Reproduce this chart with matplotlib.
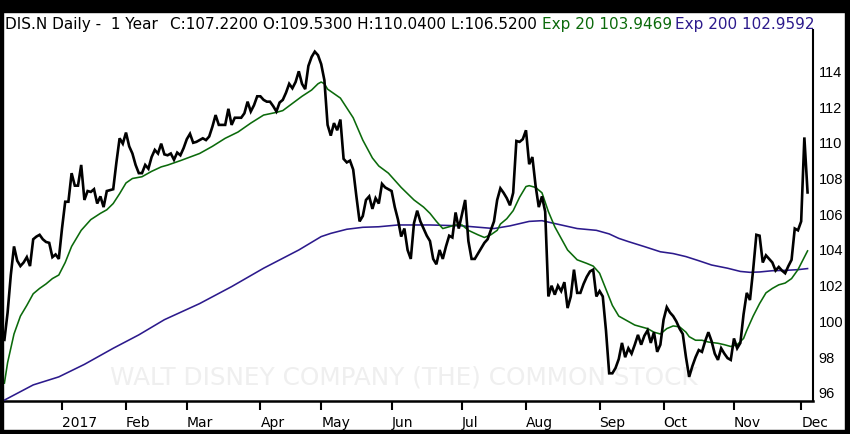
import numpy as np
import matplotlib
matplotlib.use("Agg")
import matplotlib.pyplot as plt
from matplotlib.patches import Rectangle

# ---------------- data (trading-day index, 0 = 3 Jan 2017) ----------------
start_idx = -18
close = [
    98.97, 100.5, 102.6, 104.2, 103.4, 103.1, 103.3, 103.6, 103.1, 104.6,
    104.75, 104.85, 104.6, 104.45, 104.4, 103.6, 103.75, 103.5,
    105.2, 106.7, 106.7, 108.3, 107.6, 107.6, 108.76, 106.8, 107.3, 107.25,
    107.4, 106.6, 107.0, 106.4, 107.3, 107.35, 107.4, 108.9, 110.25, 109.95,
    110.57, 109.8, 109.4, 108.76, 108.3, 108.3, 108.76, 108.55, 109.2, 109.6,
    109.4, 109.95, 109.35, 109.3, 109.4, 109.05, 109.45, 109.3, 109.7, 110.2,
    110.5, 110.0, 110.05, 110.15, 110.25, 110.15, 110.35, 110.9, 111.55, 111.0,
    111.0, 111.0, 111.9, 111.0, 111.4, 111.4, 111.4, 111.65, 112.3, 111.75,
    112.1, 112.6, 112.6, 112.4, 112.3, 112.3, 112.05, 111.75, 112.25, 112.4,
    112.8, 113.3, 113.05, 113.4, 114.0, 113.3, 113.0, 114.3, 114.8, 115.1,
    114.9, 114.4, 113.5, 111.0, 110.4, 111.1, 110.7, 111.3, 109.1, 108.9,
    109.0, 108.5, 107.0, 105.6, 105.9, 106.8, 107.0, 106.3, 106.9, 106.6,
    107.7, 107.5, 107.4, 107.3, 106.4, 105.7, 104.75, 105.2, 104.0, 103.5,
    105.5, 106.2, 105.6, 105.2, 104.8, 104.5, 103.5, 103.2, 104.0, 103.5,
    104.2, 104.8, 104.7, 106.1, 105.2, 106.0, 106.8, 104.5, 103.5, 103.5,
    103.8, 104.1, 104.4, 104.6, 105.1, 105.6, 106.8, 107.45, 107.2, 106.9,
    106.5, 107.2, 110.1, 110.05, 110.2, 110.7, 108.8, 109.2, 107.6, 106.4,
    107.0, 106.15, 101.4, 102.0, 101.5, 102.0, 101.7, 102.2, 100.75, 101.4,
    102.9, 101.6, 101.6, 102.1, 102.5, 102.8, 102.9, 101.4, 101.7, 101.4,
    99.5, 97.1, 97.1, 97.4, 97.9, 98.8, 98.0, 98.5, 98.2, 98.7,
    99.25, 98.7, 99.2, 99.5, 98.8, 99.4, 98.3, 98.7, 100.1, 100.8,
    100.5, 100.3, 100.0, 99.6, 99.3, 98.0, 96.9, 97.5, 98.0, 98.4,
    98.3, 98.9, 99.4, 98.9, 98.2, 97.85, 98.5, 98.2, 97.95, 97.85,
    99.05, 98.5, 98.8, 100.4, 101.6, 101.2, 102.9, 104.85, 104.8, 103.3,
    103.7, 103.5, 103.3, 102.85, 103.05, 102.85, 102.7, 103.1, 103.45, 105.2,
    105.1, 105.6, 110.3, 107.22,
]

ema20_idx = [-18, -17, -15, -13, -11, -9, -7, -5, -3, -1, 1, 3, 6, 9, 12, 14, 16, 18, 20,
             22, 25, 28, 31, 33, 37, 43, 47, 51, 55, 59, 63, 67, 69, 72, 75, 78, 80, 81,
             82, 83, 85, 87, 91, 94, 97, 99, 102, 106, 110, 113, 115, 117, 119, 121, 123,
             125, 127, 130, 132, 134, 136, 137, 139, 141, 143, 145, 146, 148, 150, 152,
             154, 156, 158, 161, 164, 166, 168, 170, 172, 174, 177, 179, 181, 183, 185,
             187, 189, 191, 193, 195, 196, 198, 200, 202, 205, 207, 209, 211, 213, 214,
             216, 218, 220, 222, 224, 226, 228, 230, 231, 232, 233]
ema20_val = [96.55, 97.7, 99.3, 100.3, 100.9, 101.55, 101.85, 102.1, 102.4, 102.6, 103.3,
             104.2, 105.1, 105.7, 106.05, 106.25, 106.6, 107.15, 107.75, 108.0, 108.1,
             108.4, 108.65, 108.75, 109.0, 109.4, 109.8, 110.25, 110.6, 111.1, 111.55,
             111.7, 111.8, 112.2, 112.6, 112.95, 113.3, 113.4, 113.3, 113.0, 112.75,
             112.5, 111.4, 110.15, 109.15, 108.7, 108.3, 107.5, 106.8, 106.4, 106.05,
             105.6, 105.2, 105.3, 105.4, 105.4, 105.1, 104.85, 104.7, 104.85, 105.1,
             105.45, 105.75, 106.2, 106.95, 107.55, 107.6, 107.5, 107.2, 106.15, 105.3,
             104.65, 104.0, 103.45, 103.25, 103.1, 102.7, 101.8, 100.9, 100.3, 100.0,
             99.8, 99.7, 99.6, 99.4, 99.3, 99.6, 99.75, 99.7, 99.4, 99.15, 98.95, 98.95,
             98.85, 98.78, 98.7, 98.6, 98.7, 99.05, 99.5, 100.3, 101.0, 101.6, 101.85,
             102.05, 102.15, 102.4, 102.9, 103.25, 103.6, 103.95]

ema200_idx = [-18, -9, -1, 7, 16, 24, 32, 43, 53, 63, 74, 81, 84, 89, 94, 99, 105, 115,
              125, 135, 140, 146, 150, 156, 161, 167, 171, 174, 177, 182, 187, 191, 195,
              199, 203, 208, 212, 215, 218, 222, 226, 230, 233]
ema200_val = [95.6, 96.45, 96.9, 97.6, 98.5, 99.25, 100.1, 101.0, 101.95, 102.98, 104.0,
              104.75, 104.93, 105.16, 105.27, 105.3, 105.4, 105.4, 105.35, 105.2, 105.35,
              105.6, 105.64, 105.4, 105.2, 105.1, 104.9, 104.65, 104.47, 104.19, 103.9,
              103.8, 103.63, 103.4, 103.16, 102.98, 102.8, 102.75, 102.77, 102.84, 102.86,
              102.9, 102.96]

month_idx = [0, 20, 39, 62, 81, 103, 125, 145, 168, 188, 210, 231]
month_labels = ["2017", "Feb", "Mar", "Apr", "May", "Jun", "Jul", "Aug", "Sep", "Oct", "Nov", "Dec"]
y_ticks = [96, 98, 100, 102, 104, 106, 108, 110, 112, 114]

header_main = "DIS.N Daily -  1 Year"
header_ohlc = "C:107.2200 O:109.5300 H:110.0400 L:106.5200"
header_ema20 = "Exp 20 103.9469"
header_ema200 = "Exp 200 102.9592"
watermark = "WALT DISNEY COMPANY (THE) COMMON STOCK"

# ---------------- figure ----------------
W, H = 850, 434
fig = plt.figure(figsize=(W / 100, H / 100), dpi=100)
fig.patch.set_facecolor("white")

def fx(px):
    return px / W

def fy(py):
    return 1 - py / H

ax_left, ax_right, ax_top, ax_bottom = 3, 813, 30, 401
ax = fig.add_axes([fx(ax_left), fy(ax_bottom), fx(ax_right - ax_left), (ax_bottom - ax_top) / H])
ax.set_facecolor("white")

x_close = np.arange(start_idx, start_idx + len(close))

green = "#0b6a0b"
navy = "#2c1a8c"

ax.plot(ema200_idx, ema200_val, color=navy, lw=1.15, zorder=3)
ax.plot(ema20_idx, ema20_val, color=green, lw=1.15, zorder=3)
ax.plot(x_close, close, color="black", lw=1.9, zorder=4, solid_joinstyle="miter")

ax.set_xlim(-18.44, 234.7)
ax.set_ylim(95.55, 116.31)

# watermark
wm = ax.text(0.5, 0, watermark, transform=ax.transAxes, color="#efefef",
             fontsize=18, ha="left", va="center", zorder=1, family="DejaVu Sans")

# spines
for s in ["top", "left"]:
    ax.spines[s].set_visible(False)
ax.spines["right"].set_linewidth(1.5)
ax.spines["bottom"].set_linewidth(1.8)

ax.yaxis.tick_right()
ax.set_yticks(y_ticks)
ax.set_yticklabels([str(v) for v in y_ticks], family="Liberation Sans", fontsize=10.5)
ax.tick_params(axis="y", length=0, pad=4)

ax.set_xticks(month_idx)
ax.set_xticklabels(month_labels, family="DejaVu Sans", fontsize=10, ha="left")
ax.tick_params(axis="x", direction="out", length=6.5, width=1.5, pad=4)

# header texts
hy = fy(29)
fig.text(fx(5), hy, header_main, fontsize=11, color="black", va="baseline", family="DejaVu Sans")
fig.text(fx(170), hy, header_ohlc, fontsize=11, color="black", va="baseline", family="DejaVu Sans")
fig.text(fx(542), hy, header_ema20, fontsize=11, color=green, va="baseline", family="DejaVu Sans")
fig.text(fx(675), hy, header_ema200, fontsize=11, color=navy, va="baseline", family="DejaVu Sans")

# black frame around the image
fig.add_artist(Rectangle((0, fy(12)), 1, 12 / H, transform=fig.transFigure, color="black", zorder=10))
fig.add_artist(Rectangle((0, 0), fx(3), 1, transform=fig.transFigure, color="black", zorder=10))
fig.add_artist(Rectangle((fx(845), 0), fx(5), 1, transform=fig.transFigure, color="black", zorder=10))
fig.add_artist(Rectangle((0, 0), 1, 4 / H, transform=fig.transFigure, color="black", zorder=10))

# fit the watermark into its place (x 110..700 px, centre y 377 px)
fig.canvas.draw()
r = fig.canvas.get_renderer()
bb = wm.get_window_extent(r)
wm.set_fontsize(18 * 590 / bb.width)
inv = ax.transAxes.inverted()
p = inv.transform((110, H - 377))
wm.set_position((p[0], p[1]))

fig.savefig("out.png", dpi=100, facecolor="white")
